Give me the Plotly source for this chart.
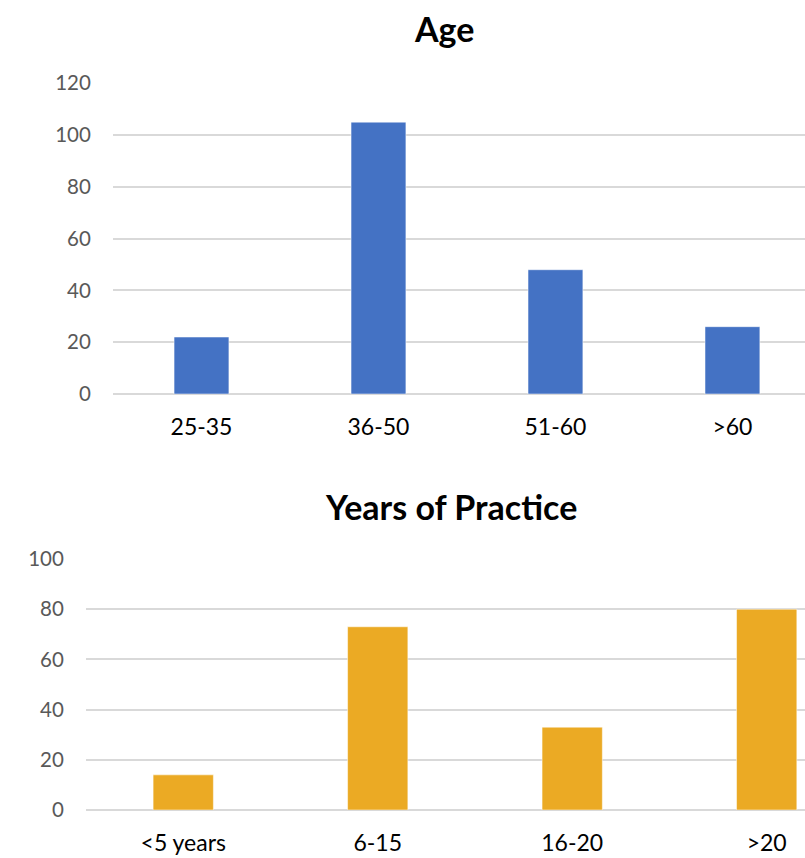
import plotly.graph_objects as go

# Survey demographics
age_groups = ["25-35", "36-50", "51-60", ">60"]
age_counts = [22, 105, 48, 26]

practice_groups = ["<5 years", "6-15", "16-20", ">20"]
practice_counts = [14, 73, 33, 80]

W, H = 805, 858
FONT = "Lato"
GRID = "#d9d9d9"

fig = go.Figure()

fig.add_trace(go.Bar(
    x=age_groups, y=age_counts, width=0.31,
    marker=dict(color="#4472C4", line=dict(color="rgba(255,255,255,0.5)", width=1)),
    xaxis="x", yaxis="y", hoverinfo="x+y",
))
fig.add_trace(go.Bar(
    x=practice_groups, y=practice_counts, width=0.31,
    marker=dict(color="#EBAA24", line=dict(color="rgba(255,255,255,0.5)", width=1)),
    xaxis="x2", yaxis="y2", hoverinfo="x+y",
))

def px_to_paper_y(py):
    return 1 - py / H

common_y = dict(
    showgrid=True, gridcolor=GRID, gridwidth=1.5,
    zeroline=True, zerolinecolor=GRID, zerolinewidth=1.5,
    showline=False, ticks="outside", ticklen=17, tickcolor="rgba(0,0,0,0)",
    tickfont=dict(family=FONT, size=20.5, color="#595959"),
    automargin=False, fixedrange=True,
)
common_x = dict(
    type="category", showgrid=False, zeroline=False, showline=False,
    ticks="outside", ticklen=12, tickcolor="rgba(0,0,0,0)",
    tickfont=dict(family=FONT, size=23, color="#000000"),
    automargin=False, fixedrange=True,
)

fig.update_layout(
    template="none",
    width=W, height=H, autosize=False,
    margin=dict(l=0, r=0, t=0, b=0, pad=0),
    paper_bgcolor="white", plot_bgcolor="white",
    showlegend=False,
    xaxis=dict(common_x, domain=[113 / W, 1], range=[-0.5, 3.41], anchor="y"),
    yaxis=dict(common_y, domain=[px_to_paper_y(394), px_to_paper_y(83.3)],
               range=[0, 120], dtick=20, anchor="x"),
    xaxis2=dict(common_x, domain=[86 / W, 1], range=[-0.5, 3.197], anchor="y2"),
    yaxis2=dict(common_y, domain=[px_to_paper_y(810), px_to_paper_y(559)],
                range=[0, 100], dtick=20, anchor="x2"),
    annotations=[
        dict(text="<b>Age</b>", x=444 / W, y=px_to_paper_y(28), xref="paper", yref="paper",
             xanchor="center", yanchor="middle", showarrow=False,
             font=dict(family=FONT, size=34, color="#000000")),
        dict(text="<b>Years of Practice</b>", x=451 / W, y=px_to_paper_y(506),
             xref="paper", yref="paper", xanchor="center", yanchor="middle",
             showarrow=False, font=dict(family=FONT, size=34, color="#000000")),
    ],
)

fig.write_html("out.html")
